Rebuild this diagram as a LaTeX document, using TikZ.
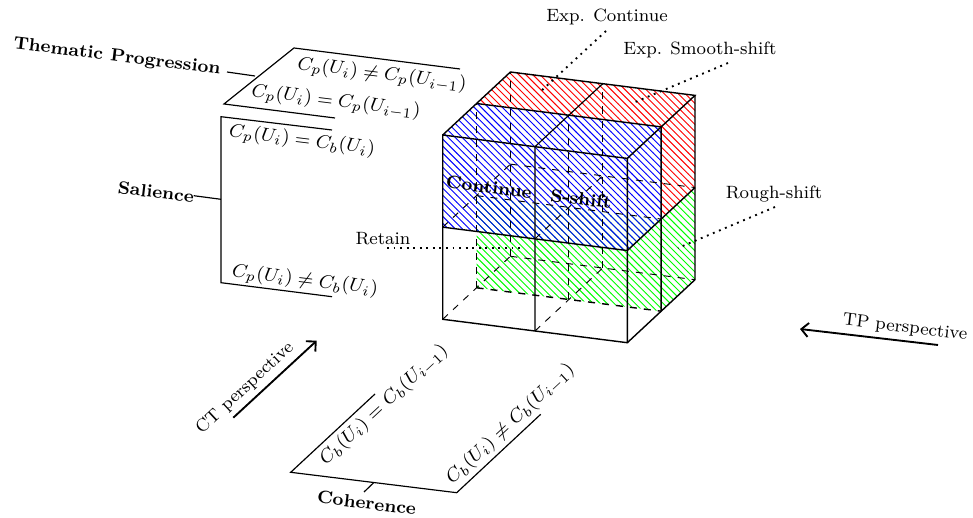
\documentclass[tikz,border=0pt]{standalone}
\usepackage{amsmath,amssymb}
\usetikzlibrary{arrows.meta,patterns}
\newcommand{\labsize}{\fontsize{7.6}{9}\selectfont}
\newcommand{\condsize}{\fontsize{8.4}{10}\selectfont}
\begin{document}
\begin{tikzpicture}[
  x=0.015022cm, y=-0.015022cm,
  edge/.style={draw, semithick},
  hidden/.style={draw, thin, dashed},
  hiddenb/.style={draw, semithick, dashed},
  bracket/.style={draw, line width=0.5pt},
  leader/.style={draw, thick, dotted},
  persp/.style={->, >={Straight Barb[length=3pt,width=6pt]}, thick},
  lab/.style={font=\labsize, inner sep=0pt},
  head/.style={font=\labsize\bfseries, inner sep=0pt},
  cond/.style={font=\condsize, inner sep=0pt, rotate=-7},
  condb/.style={font=\condsize, inner sep=0pt, rotate=43}
]
\useasboundingbox (0,0) rectangle (973,518);
\foreach \i in {0,1,2}
  \foreach \j in {0,1,2}
    \foreach \k in {0,1,2}
      \coordinate (c\i\j\k) at ({442.7+92.3*\i+33.85*\j},{319.3+11.7*\i-31.5*\j-92.15*\k});
% back slab
\fill[pattern=north west lines, pattern color=green] (c010) -- (c210) -- (c211) -- (c011) -- cycle;
\fill[pattern=north west lines, pattern color=green] (c210) -- (c220) -- (c221) -- (c211) -- cycle;
\fill[pattern=north west lines, pattern color=red] (c012) -- (c212) -- (c222) -- (c022) -- cycle;
\fill[pattern=north west lines, pattern color=red] (c211) -- (c221) -- (c222) -- (c212) -- cycle;
% front slab
\fill[pattern=north west lines, pattern color=blue] (c001) -- (c201) -- (c202) -- (c002) -- cycle;
\fill[pattern=north west lines, pattern color=blue] (c002) -- (c202) -- (c212) -- (c012) -- cycle;
\fill[pattern=north west lines, pattern color=blue] (c201) -- (c211) -- (c212) -- (c202) -- cycle;
% hidden edges
\draw[hidden] (c010) -- (c012) (c110) -- (c112) (c020) -- (c022) (c120) -- (c122);
\draw[hidden] (c000) -- (c020) (c100) -- (c120) (c001) -- (c021) (c101) -- (c121);
\draw[hidden] (c020) -- (c220) (c011) -- (c211) (c021) -- (c221);
\draw[hiddenb] (c010) -- (c210);
% visible edges
\draw[edge] (c000) -- (c200) -- (c202) -- (c002) -- cycle;
\draw[edge] (c001) -- (c201) -- (c221);
\draw[edge] (c002) -- (c022) -- (c222) -- (c202);
\draw[edge] (c012) -- (c212) -- (c210);
\draw[edge] (c200) -- (c220) -- (c222);
\draw[bracket] (c100) -- (c102) -- (c122);
% cell labels
\node[head, rotate=-7] (cont) at (489,187) {Continue};
\node[head, rotate=-7] (sshift) at (581,199) {S-shift};
% outcome labels
\node[lab] (expcont) at (607,17) {Exp. Continue};
\node[lab] (expsmooth) at (700,50) {Exp. Smooth-shift};
\node[lab] (rough) at (774,194) {Rough-shift};
\node[lab] (retain) at (383,239) {Retain};
\coordinate (expcontfrom) at (606,31);
\coordinate (expsmoothfrom) at (728,63);
\coordinate (roughfrom) at (775,207);
\coordinate (retainfrom) at (387,248);
\coordinate (expcontend) at (540,92);
\coordinate (expsmoothend) at (633,103);
\coordinate (roughend) at (678,248);
\coordinate (retainend) at (523,248);
\draw[leader] (expcontfrom) -- (expcontend);
\draw[leader] (expsmoothfrom) -- (expsmoothend);
\draw[leader] (roughfrom) -- (roughend);
\draw[leader] (retainfrom) -- (retainend);
% thematic progression
\coordinate (tpa) at (460,69);
\coordinate (tpb) at (294,48);
\coordinate (tpc) at (224,104);
\coordinate (tpd) at (335,118);
\coordinate (tps) at (227,72);
\coordinate (tpt) at (255,76);
\draw[bracket] (tpa) -- (tpb) -- (tpc) -- (tpd);
\node[head, rotate=-7] (thematic) at (117,57) {Thematic Progression};
\draw[bracket] (tps) -- (tpt);
\node[cond] (pne) at (382,75) {$C_p(U_i)\neq C_p(U_{i-1})$};
\node[cond] (peq) at (336,102) {$C_p(U_i)=C_p(U_{i-1})$};
% salience
\coordinate (saa) at (332,130);
\coordinate (sab) at (221,116.7);
\coordinate (sac) at (221,282.7);
\coordinate (sad) at (332,296.7);
\coordinate (sas) at (193.7,195.7);
\coordinate (sat) at (221,199.3);
\draw[bracket] (saa) -- (sab) -- (sac) -- (sad);
\node[head, rotate=-7] (salience) at (156,192) {Salience};
\draw[bracket] (sas) -- (sat);
\node[cond] (bieq) at (302,141) {$C_p(U_i)=C_b(U_i)$};
\node[cond] (bine) at (305,281) {$C_p(U_i)\neq C_b(U_i)$};
% coherence
\coordinate (coa) at (375,394);
\coordinate (cob) at (290.7,472.3);
\coordinate (coc) at (456.7,492.7);
\coordinate (cod) at (540.7,414.3);
\coordinate (cos) at (373.7,482.7);
\coordinate (cot) at (364,492);
\draw[bracket] (coa) -- (cob) -- (coc) -- (cod);
\node[head, rotate=-7] (coherence) at (366.7,503) {Coherence};
\draw[bracket] (cos) -- (cot);
\node[condb] (ceq) at (384,405) {$C_b(U_i)=C_b(U_{i-1})$};
\node[condb] (cne) at (510.5,424) {$C_b(U_i)\neq C_b(U_{i-1})$};
% perspectives
\coordinate (ctfrom) at (233.3,417.7);
\coordinate (ctto) at (316.7,340.7);
\coordinate (tpfrom) at (938,345);
\coordinate (tpto) at (800,329);
\draw[persp] (ctfrom) -- (ctto);
\draw[persp] (tpfrom) -- (tpto);
\node[lab, rotate=43] (ctlab) at (245,388) {CT perspective};
\node[lab, rotate=-7] (tplab) at (905,328) {TP perspective};
\end{tikzpicture}
\end{document}
